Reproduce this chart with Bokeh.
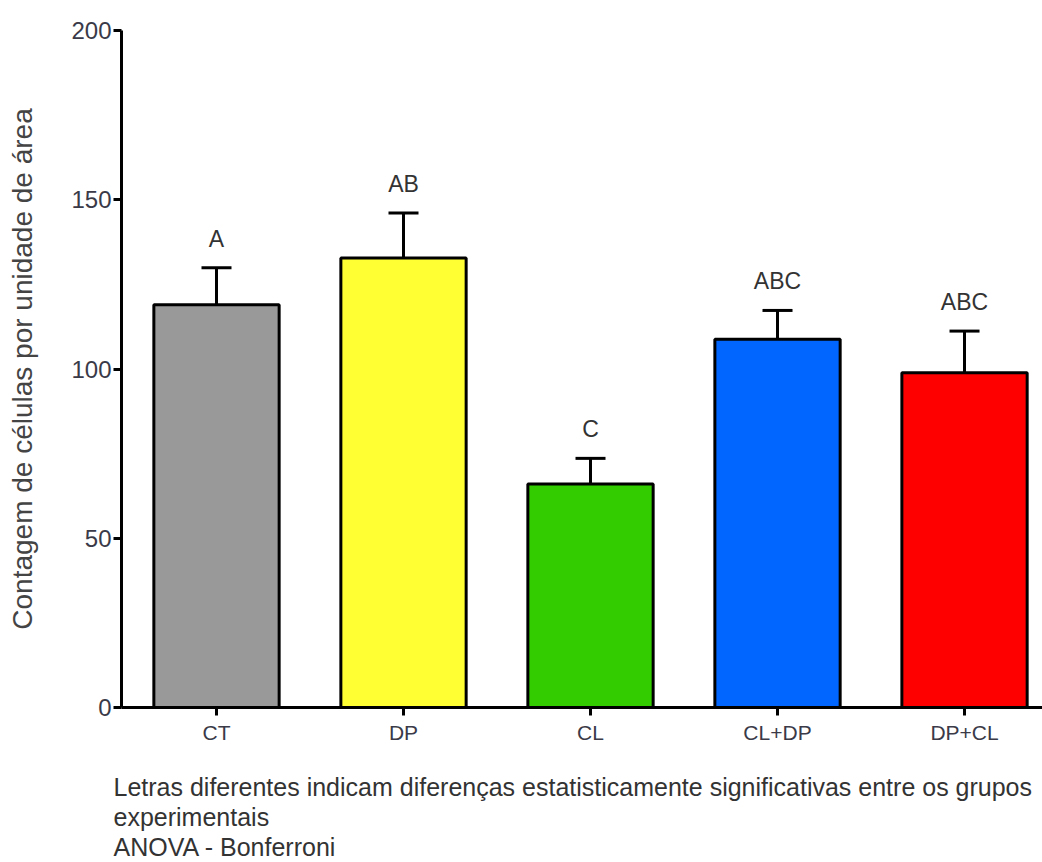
from bokeh.plotting import figure
from bokeh.models import ColumnDataSource, FixedTicker, Whisker, TeeHead, Title, Range1d
from bokeh.core.properties import value
from bokeh.embed import file_html
from bokeh.resources import INLINE

# Groups, mean counts and SEM
groups = ["CT", "DP", "CL", "CL+DP", "DP+CL"]
means = [119.0, 132.8, 66.0, 108.8, 98.9]
sems = [10.9, 13.3, 7.6, 8.5, 12.3]
letters = ["A", "AB", "C", "ABC", "ABC"]
colors = ["#999999", "#ffff33", "#33cc00", "#0066ff", "#ff0000"]
y_ticks = [0, 50, 100, 150, 200]

notes = [
    "Letras diferentes indicam diferenças estatisticamente significativas entre os grupos",
    "experimentais",
    "ANOVA - Bonferroni",
]

xs = list(range(1, len(groups) + 1))
upper = [m + s for m, s in zip(means, sems)]

src = ColumnDataSource(dict(x=xs, top=means, upper=upper, lab=letters, color=colors))

FONT = "Liberation Sans"
TXT = "#333333"

p = figure(
    width=1042, height=862,
    x_range=Range1d(0.492, 5.417), y_range=Range1d(0, 200),
    output_backend="svg", toolbar_location=None,
    min_border_left=121, min_border_right=0, min_border_top=30, min_border_bottom=155,
)
p.outline_line_color = None
p.xgrid.visible = False
p.ygrid.visible = False
p.background_fill_color = "white"
p.border_fill_color = "white"

# error bars (upper only)
wh = Whisker(
    source=src, base="x", lower="top", upper="upper",
    line_color="black", line_width=3,
    upper_head=TeeHead(size=30, line_color="black", line_width=3),
    lower_head=None,
)
p.add_layout(wh)

p.vbar(x="x", top="top", bottom=0, width=0.67, source=src,
       fill_color="color", line_color="black", line_width=3)

p.text(x="x", y="upper", text="lab", source=src, text_align="center",
       text_baseline="alphabetic", y_offset=-29, text_font=value(FONT),
       text_font_size="23px", text_color=TXT)

# axes
p.yaxis.ticker = FixedTicker(ticks=y_ticks)
p.yaxis.axis_label = "Contagem de células por unidade de área"
p.yaxis.axis_label_text_font = FONT
p.yaxis.axis_label_text_font_size = "28px"
p.yaxis.axis_label_text_font_style = "normal"
p.yaxis.axis_label_text_color = "#444444"
p.yaxis.axis_label_standoff = 30
p.yaxis.major_label_text_font = FONT
p.yaxis.major_label_text_font_size = "24px"
p.yaxis.major_label_text_color = "#3a3a48"
p.yaxis.major_label_standoff = 2

p.xaxis.ticker = FixedTicker(ticks=xs)
p.xaxis.major_label_overrides = {x: g for x, g in zip(xs, groups)}
p.xaxis.major_label_text_font = FONT
p.xaxis.major_label_text_font_size = "21px"
p.xaxis.major_label_text_color = "#3a3a48"
p.xaxis.major_label_standoff = 5
# blank axis label keeps a gap between the category names and the notes
p.xaxis.axis_label = " "
p.xaxis.axis_label_text_font_size = "19px"
p.xaxis.axis_label_standoff = 0

for ax in (p.xaxis, p.yaxis):
    ax.axis_line_width = 3
    ax.axis_line_color = "black"
    ax.major_tick_line_width = 3
    ax.major_tick_line_color = "black"
    ax.major_tick_in = 0
    ax.major_tick_out = 8
    ax.minor_tick_line_color = None

# footnotes below the chart
for i, note in enumerate(notes):
    t = Title(text=note, align="left", offset=-8, standoff=0,
              text_font=FONT, text_font_size="25px", text_font_style="normal",
              text_color=TXT)
    p.add_layout(t, "below")

open("out.html", "w").write(file_html(p, INLINE))
